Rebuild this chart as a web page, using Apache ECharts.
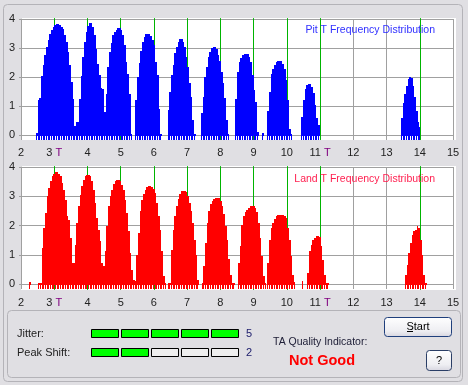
<!DOCTYPE html>
<html>
<head>
<meta charset="utf-8">
<script src="https://cdn.jsdelivr.net/npm/echarts@6/dist/echarts.min.js"></script>
<style>
html,body{margin:0;padding:0;background:#e0dfe3;}
#c{width:468px;height:385px;}
</style>
</head>
<body>
<div id="c"></div>
<script>
// ---------- axis ticks ----------
const X_TICKS = [2, 3, 4, 5, 6, 7, 8, 9, 10, 11, 12, 13, 14, 15];
const X_TICK_LABELS = ['2', '3 T', '4', '5', '6', '7', '8', '9', '10', '11 T', '12', '13', '14', '15'];
const Y_TICKS = [0, 1, 2, 3, 4];
const GREEN_MARKS = [3, 4, 5, 6, 7, 8, 9, 10, 11, 14];
const PIT_GREEN_ON_TOP = [11, 14];

// histogram bin width (in T)
const BIN = 0.05;

// ---------- Pit T histogram (blue) : start of first bin + bin heights ----------
const PIT_STARTS = [2.45, 3.65, 4.50, 5.44, 6.41, 7.42, 8.45, 9.25, 9.41, 10.44, 13.44];
const PIT_3T  = [0.08, 1.2, 1.28, 2.02, 2.43, 2.77, 3.04, 3.29, 3.47, 3.62, 3.73, 3.79, 3.82, 3.82, 3.79, 3.74, 3.64, 3.45, 3.2, 2.85, 2.4, 1.83, 1.25, 0.3];
const PIT_4T  = [0.46, 0.46, 1.25, 2.02, 2.7, 3.2, 3.56, 3.77, 3.85, 3.85, 3.73, 3.45, 2.98, 2.46, 2.06, 1.62, 1.6];
const PIT_5T  = [0.79, 1.42, 2.35, 2.87, 3.18, 3.45, 3.54, 3.62, 3.68, 3.68, 3.62, 3.45, 3.1, 2.52, 2.12, 1.42, 0.05];
const PIT_6T  = [1.2, 2.0, 2.5, 2.9, 3.2, 3.39, 3.48, 3.5, 3.5, 3.42, 3.27, 3.1, 2.52, 2.06, 0.9, 0.05];
const PIT_7T  = [0.86, 1.5, 2.07, 2.41, 2.82, 3.05, 3.22, 3.3, 3.3, 3.22, 3.05, 2.7, 2.36, 1.78, 1.32, 0.52, 0.05];
const PIT_8T  = [0.75, 1.32, 2.0, 2.36, 2.68, 2.87, 2.99, 3.02, 3.02, 2.95, 2.75, 2.55, 2.18, 1.78, 1.26, 0.52, 0.05];
const PIT_9T  = [1.25, 2.17, 2.52, 2.66, 2.75, 2.81, 2.81, 2.81, 2.69, 2.52, 2.06, 1.54, 1.13, 0.09];
const PIT_GAP = [0.06];
const PIT_10T = [0.84, 1.48, 2.12, 2.29, 2.43, 2.52, 2.54, 2.54, 2.54, 2.46, 2.29, 1.88, 1.19, 0.2, 0.03];
const PIT_11T = [0.63, 1.2, 1.6, 1.72, 1.75, 1.75, 1.65, 1.45, 1.03, 0.6, 0.34];
const PIT_14T = [0.6, 1.1, 1.42, 1.68, 1.94, 2.01, 1.96, 1.7, 1.3, 0.83, 0.44, 0.29];
const PIT_PEAKS = [PIT_3T, PIT_4T, PIT_5T, PIT_6T, PIT_7T, PIT_8T, PIT_9T, PIT_GAP, PIT_10T, PIT_11T, PIT_14T];

// ---------- Land T histogram (red) ----------
const LAND_STARTS = [2.25, 2.52, 3.57, 4.47, 5.42, 6.41, 7.44, 8.53, 9.41, 10.45, 10.62, 13.56];
const LAND_GAP1 = [0.07];
const LAND_3T  = [0.05, 0.05, 1.23, 1.91, 2.43, 3.0, 3.28, 3.51, 3.68, 3.77, 3.82, 3.82, 3.77, 3.68, 3.45, 3.22, 2.88, 2.31, 2.2, 1.57, 0.72];
const LAND_4T  = [0.72, 1.34, 2.09, 2.66, 3.05, 3.34, 3.57, 3.7, 3.74, 3.74, 3.7, 3.51, 3.22, 2.77, 2.26, 1.86, 1.46, 0.72];
const LAND_5T  = [0.6, 1.12, 1.97, 2.66, 3.0, 3.22, 3.43, 3.51, 3.57, 3.57, 3.51, 3.4, 3.22, 2.88, 2.43, 1.8, 1.06, 0.49, 0.15];
const LAND_6T  = [0.09, 1.0, 1.74, 2.48, 2.88, 3.09, 3.22, 3.3, 3.36, 3.36, 3.32, 3.25, 3.11, 2.77, 2.31, 1.86, 1.12, 0.26, 0.05];
const LAND_7T  = [0.03, 0.03, 1.17, 1.86, 2.32, 2.67, 2.9, 3.07, 3.18, 3.18, 3.18, 3.13, 3.01, 2.78, 2.49, 2.09, 1.52, 1.0, 0.14];
const LAND_8T  = [0.03, 0.6, 1.4, 2.1, 2.5, 2.72, 2.85, 2.91, 2.94, 2.95, 2.93, 2.85, 2.68, 2.38, 2.0, 1.5, 0.85, 0.3, 0.03, 0.03];
const LAND_9T  = [0.72, 1.29, 2.03, 2.31, 2.45, 2.54, 2.6, 2.66, 2.66, 2.66, 2.6, 2.45, 2.09, 1.57, 0.95, 0.26, 0.03];
const LAND_10T = [0.72, 1.52, 1.91, 2.09, 2.22, 2.31, 2.35, 2.37, 2.37, 2.37, 2.31, 2.26, 1.91, 1.52, 0.95, 0.32, 0.06];
const LAND_GAP2 = [0.09];
const LAND_11T = [0.38, 1.12, 1.34, 1.49, 1.57, 1.65, 1.65, 1.61, 1.29, 0.83, 0.3, 0.03, 0.03];
const LAND_14T = [0.32, 0.66, 1.06, 1.4, 1.69, 1.8, 1.86, 1.97, 1.9, 1.5, 1.0, 0.3, 0.03];
const LAND_PEAKS = [LAND_GAP1, LAND_3T, LAND_4T, LAND_5T, LAND_6T, LAND_7T, LAND_8T, LAND_9T, LAND_10T, LAND_GAP2, LAND_11T, LAND_14T];

// ---------- indicator panel ----------
const INDICATOR_NAMES = ['Jitter:', 'Peak Shift:'];
const INDICATOR_LEVELS = [5, 2];
const INDICATOR_MAX = 5;
const QUALITY_LABEL = 'TA Quality Indicator:';
const QUALITY_VALUE = 'Not Good';
const PIT_TITLE = 'Pit T Frequency Distribution';
const LAND_TITLE = 'Land T Frequency Distribution';

// ---------- styling ----------
const FONT = '"Liberation Sans", Arial, sans-serif';
const GRID_GRAY = '#a0a0a0';
const GREEN = '#00b400';
const BLUE = '#0000ff';
const RED = '#ff0000';
const DOT_DEPTH = -0.14;
const BG = '#e0dfe3';

function xLabel(v) {
  const idx = X_TICKS.indexOf(Math.round(v));
  const lbl = idx >= 0 ? X_TICK_LABELS[idx] : String(v);
  if (lbl.endsWith(' T')) return '{n|' + lbl.slice(0, -2) + '}{s| }{t|T}';
  return '{n|' + lbl + '}';
}
function mkX(gi, margin) {
  return {
    gridIndex: gi, type: 'value', min: X_TICKS[0], max: X_TICKS[X_TICKS.length - 1], interval: 1,
    axisLine: { show: true, lineStyle: { color: GRID_GRAY, width: 1 } },
    axisTick: { show: true, length: 5, lineStyle: { color: GRID_GRAY } },
    splitLine: { show: true, lineStyle: { color: GRID_GRAY, width: 1 } },
    axisLabel: {
      margin: margin, formatter: xLabel, fontFamily: FONT, fontSize: 11, color: '#222',
      rich: {
        n: { fontFamily: FONT, fontSize: 11, color: '#222' },
        s: { fontFamily: FONT, fontSize: 11, color: '#222' },
        t: { fontFamily: FONT, fontSize: 11, color: '#800080' }
      }
    }
  };
}
function mkY(gi) {
  return {
    gridIndex: gi, type: 'value', min: Y_TICKS[0], max: Y_TICKS[Y_TICKS.length - 1], interval: 1,
    axisLine: { show: true, lineStyle: { color: GRID_GRAY, width: 1 } },
    axisTick: { show: true, length: 2, lineStyle: { color: GRID_GRAY } },
    splitLine: { show: true, lineStyle: { color: GRID_GRAY, width: 1 } },
    axisLabel: { margin: 6, fontFamily: FONT, fontSize: 11, color: '#222' }
  };
}
function greenSeries(gi, xs, yLo, yHi, z) {
  return {
    type: 'custom', xAxisIndex: gi, yAxisIndex: gi, z: z, silent: true, clip: false,
    data: xs.map(x => [x]),
    renderItem: function (params, api) {
      const x = api.value(0);
      const top = api.coord([x, yHi]);
      const bot = api.coord([x, yLo]);
      const px = Math.floor(top[0] + 0.25) + 0.5;
      return { type: 'line', shape: { x1: px, y1: top[1], x2: px, y2: bot[1] }, style: { stroke: GREEN, lineWidth: 1 } };
    }
  };
}
// one data item per peak: [start, peakIndex]; each peak drawn as a staircase polygon plus a dotted base
function histSeries(gi, starts, peaks, color) {
  return {
    type: 'custom', xAxisIndex: gi, yAxisIndex: gi, z: 3, silent: true, clip: false,
    data: starts.map((s, k) => [s, k]), encode: { x: 0 },
    renderItem: function (params, api) {
      const s = api.value(0), k = api.value(1);
      const vals = peaks[k];
      const base = Math.round(api.coord([s, 0])[1]) + 1;
      const dotB = Math.round(api.coord([s, DOT_DEPTH])[1]) + 1;
      const pts = [];
      const children = [];
      vals.forEach((v, i) => {
        const p0 = api.coord([s + i * BIN, v]);
        const p1 = api.coord([s + (i + 1) * BIN, v]);
        const L = Math.round(p0[0]), R = Math.max(Math.round(p1[0]), L + 1);
        const top = Math.min(Math.round(p0[1]), base - 1);
        if (i === 0) pts.push([L, base]);
        pts.push([L, top], [R, top]);
        if (i === vals.length - 1) pts.push([R, base]);
        children.push({ type: 'rect', shape: { x: L, y: base, width: Math.max(R - L - 1, 1), height: dotB - base }, style: { fill: color } });
      });
      children.unshift({ type: 'polygon', shape: { points: pts }, style: { fill: color } });
      return { type: 'group', children: children };
    }
  };
}

const indicatorData = [];
INDICATOR_LEVELS.forEach((lvl, r) => {
  for (let c = 0; c < INDICATOR_MAX; c++) indicatorData.push([c, r, c < lvl ? 1 : 0]);
});

function txt(text, x, y, o) {
  return {
    type: 'text', z: 10, silent: true,
    style: Object.assign({ text: text, x: x, y: y, font: '11px ' + FONT, fill: '#222',
      align: 'left', verticalAlign: 'middle', textAlign: 'left', textVerticalAlign: 'middle' }, o || {})
  };
}
const btnFill = { type: 'linear', x: 0, y: 0, x2: 0, y2: 1,
  colorStops: [{ offset: 0, color: '#ffffff' }, { offset: 0.7, color: '#eeeef2' }, { offset: 1, color: '#d6d5df' }] };

const chart = echarts.init(document.getElementById('c'), null, { renderer: 'canvas' });
chart.setOption({
  animation: false,
  backgroundColor: BG,
  grid: [
    { left: 21, top: 19, width: 432, height: 116, outerBoundsMode: 'none' },
    { left: 21, top: 167, width: 432, height: 117, outerBoundsMode: 'none' },
    { left: 91, top: 329, width: 150, height: 37.4, outerBoundsMode: 'none' }
  ],
  xAxis: [mkX(0, 12), mkX(1, 13), { gridIndex: 2, type: 'value', min: 0, max: INDICATOR_MAX, show: false }],
  yAxis: [mkY(0), mkY(1), { gridIndex: 2, type: 'value', min: 0, max: INDICATOR_LEVELS.length, inverse: true, show: false }],
  series: [
    greenSeries(0, GREEN_MARKS.filter(x => PIT_GREEN_ON_TOP.indexOf(x) < 0), -0.17, 4.03, 1),
    histSeries(0, PIT_STARTS, PIT_PEAKS, BLUE),
    greenSeries(0, PIT_GREEN_ON_TOP, -0.17, 4.03, 5),
    greenSeries(1, GREEN_MARKS, -0.2, 4.03, 1),
    histSeries(1, LAND_STARTS, LAND_PEAKS, RED),
    {
      type: 'custom', xAxisIndex: 2, yAxisIndex: 2, data: indicatorData, silent: true, z: 10,
      renderItem: function (params, api) {
        const c = api.value(0), r = api.value(1), on = api.value(2);
        const p0 = api.coord([c, r]);
        const p1 = api.coord([c + 1, r + 1]);
        const w = Math.round(p1[0] - p0[0]) - 3;
        const h = Math.round((p1[1] - p0[1]) * 0.45);
        return {
          type: 'rect',
          shape: { x: Math.round(p0[0]) + 0.5, y: Math.round(p0[1]) + 0.5, width: w, height: h },
          style: { fill: on ? '#00ff00' : '#eeeeee', stroke: '#000000', lineWidth: 1 }
        };
      }
    }
  ],
  graphic: { elements: [
    { type: 'rect', z: -1, silent: true, shape: { x: 21, y: 18, width: 435, height: 122 }, style: { fill: '#ffffff' } },
    { type: 'rect', z: -1, silent: true, shape: { x: 21, y: 166, width: 435, height: 124 }, style: { fill: '#ffffff' } },
    { type: 'rect', z: -1, silent: true, shape: { x: 3.5, y: 4.5, width: 459, height: 377, r: 4 }, style: { fill: 'none', stroke: '#b4b3b8', lineWidth: 1 } },
    { type: 'rect', z: -1, silent: true, shape: { x: 7.5, y: 310.5, width: 453, height: 67, r: 4 }, style: { fill: 'none', stroke: '#b4b3b8', lineWidth: 1 } },
    txt(PIT_TITLE, 435, 30, { align: 'right', textAlign: 'right', fill: '#3030ff', font: '10.5px ' + FONT }),
    txt(LAND_TITLE, 435, 179, { align: 'right', textAlign: 'right', fill: '#ff1f4f', font: '10.5px ' + FONT }),
    txt(INDICATOR_NAMES[0], 17, 333.5),
    txt(INDICATOR_NAMES[1], 17, 352.5),
    txt(String(INDICATOR_LEVELS[0]), 246, 333.5, { fill: '#20206e' }),
    txt(String(INDICATOR_LEVELS[1]), 246, 352.5, { fill: '#20206e' }),
    txt(QUALITY_LABEL, 273, 342, { fill: '#202038', font: '10.5px ' + FONT }),
    txt(QUALITY_VALUE, 289, 361, { fill: '#ff0000', font: 'bold 14.5px ' + FONT }),
    { type: 'rect', z: 9, silent: true, shape: { x: 384.5, y: 317.5, width: 67, height: 19, r: 3 }, style: { fill: btnFill, stroke: '#1f3f7c', lineWidth: 1 } },
    txt('Start', 418, 326.5, { align: 'center', textAlign: 'center', fill: '#000' }),
    { type: 'line', z: 10, silent: true, shape: { x1: 407, y1: 331.5, x2: 413, y2: 331.5 }, style: { stroke: '#000', lineWidth: 1 } },
    { type: 'rect', z: 9, silent: true, shape: { x: 426.5, y: 350.5, width: 25, height: 20, r: 3 }, style: { fill: btnFill, stroke: '#2a3e66', lineWidth: 1 } },
    txt('?', 439, 360.5, { align: 'center', textAlign: 'center', fill: '#000' })
  ] }
});
</script>
</body>
</html>
